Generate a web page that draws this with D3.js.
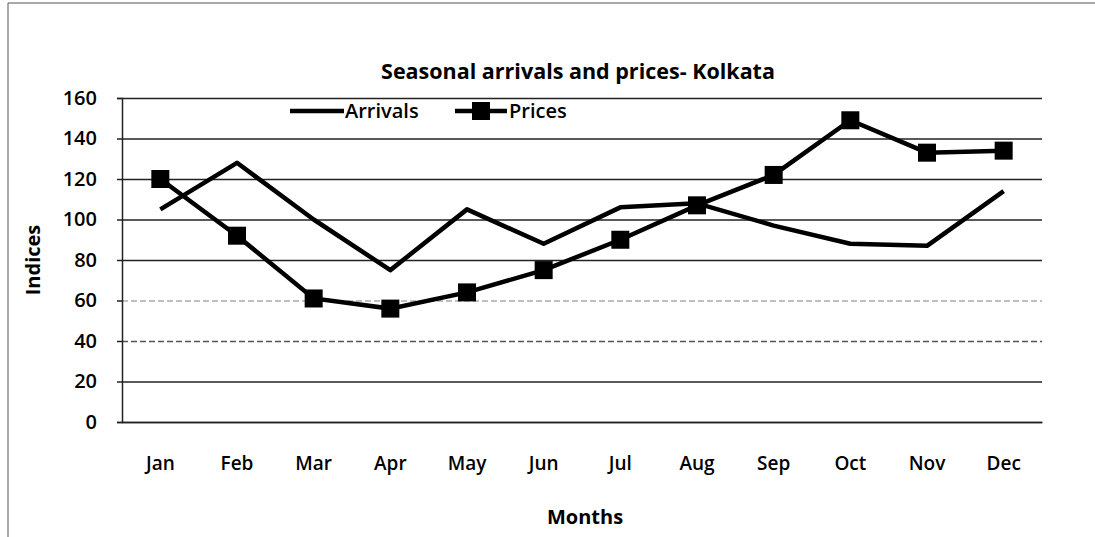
<!DOCTYPE html>
<html>
<head>
<meta charset="utf-8">
<script src="https://d3js.org/d3.v7.min.js"></script>
<style>
  body { margin: 0; background: #fff; }
  text { font-family: "Open Sans", "DejaVu Sans", sans-serif; fill: #000; }
</style>
</head>
<body>
<svg class="chart" width="1095" height="537"></svg>
<script>
  // data
  var months = ["Jan","Feb","Mar","Apr","May","Jun","Jul","Aug","Sep","Oct","Nov","Dec"]
  var arrivals = [105, 128, 100, 75, 105, 88, 106, 108, 97, 88, 87, 114]
  var prices = [120, 92, 61, 56, 64, 75, 90, 107, 122, 149, 133, 134]
  var yTicks = [0, 20, 40, 60, 80, 100, 120, 140, 160]

  var svg = d3.select("svg")
  var pLeft = 122, pRight = 1042, pTop = 98, pBottom = 422

  // page border (left and top only, like the scan)
  svg.append("line").attr("x1", 8).attr("x2", 8).attr("y1", 3).attr("y2", 537)
    .attr("stroke", "#555").attr("stroke-width", 1)
  svg.append("line").attr("x1", 8).attr("x2", 1095).attr("y1", 3).attr("y2", 3)
    .attr("stroke", "#555").attr("stroke-width", 1)

  var x = d3.scaleBand().domain(months).range([pLeft, pRight])
  var y = d3.scaleLinear().domain([0, 160]).range([pBottom, pTop])

  // gridlines
  svg.append("g")
    .attr("transform", "translate(" + pLeft + ",0)")
    .call(d3.axisLeft(y).tickValues(yTicks).tickSize(-(pRight - pLeft)).tickFormat(""))
    .call(g => g.select(".domain").remove())
    .call(g => g.selectAll(".tick line")
      .attr("stroke", d => d == 60 ? "#aaa" : (d == 40 ? "#555" : "#222"))
      .attr("stroke-dasharray", d => (d == 60 || d == 40) ? "6,3" : null)
      .attr("stroke-width", 1.5))

  // y axis with small outside ticks
  var yAxis = svg.append("g")
    .attr("transform", "translate(" + pLeft + ",0)")
    .call(d3.axisLeft(y).tickValues(yTicks).tickSize(5).tickPadding(20))
  yAxis.select(".domain").attr("stroke", "#222").attr("stroke-width", 1.5)
  yAxis.selectAll(".tick line").attr("stroke", "#222").attr("stroke-width", 1.5)
  yAxis.selectAll(".tick text")
    .style("font-size", "20px").style("font-weight", 600)

  // x axis
  var xAxis = svg.append("g")
    .attr("transform", "translate(0," + pBottom + ")")
    .call(d3.axisBottom(x).tickSize(0).tickPadding(35))
  xAxis.select(".domain").attr("stroke", "#222").attr("stroke-width", 1.5)
  xAxis.selectAll(".tick text")
    .style("font-size", "19px").style("font-weight", 600)

  var cx = d => x(d) + x.bandwidth() / 2
  var line = d3.line().x((d, i) => cx(months[i])).y(d => y(d))

  svg.append("path").datum(arrivals)
    .attr("d", line).attr("fill", "none")
    .attr("stroke", "#000").attr("stroke-width", 4.5).attr("stroke-linejoin", "round")

  svg.append("path").datum(prices)
    .attr("d", line).attr("fill", "none")
    .attr("stroke", "#000").attr("stroke-width", 4.5)

  var m = 18
  svg.selectAll("rect.mk").data(prices).enter().append("rect")
    .attr("class", "mk")
    .attr("x", (d, i) => cx(months[i]) - m / 2)
    .attr("y", d => y(d) - m / 2)
    .attr("width", m).attr("height", m)
    .attr("fill", "#000")

  // title and axis titles
  svg.append("text").attr("x", 578).attr("y", 79).attr("text-anchor", "middle")
    .style("font-size", "21.5px").style("font-weight", 700)
    .text("Seasonal arrivals and prices- Kolkata")
  svg.append("text").attr("x", 585).attr("y", 524).attr("text-anchor", "middle")
    .style("font-size", "20px").style("font-weight", 700)
    .text("Months")
  svg.append("text")
    .attr("transform", "translate(40," + (pTop + pBottom) / 2 + ") rotate(-90)")
    .attr("text-anchor", "middle")
    .style("font-size", "20px").style("font-weight", 700)
    .text("Indices")

  // legend
  var leg = svg.append("g").attr("transform", "translate(0,111)")
  leg.append("line").attr("x1", 290).attr("x2", 344).attr("y1", 0).attr("y2", 0)
    .attr("stroke", "#000").attr("stroke-width", 4.5)
  leg.append("text").attr("x", 345).attr("y", 7).style("font-size", "20px").style("font-weight", 600)
    .text("Arrivals")
  leg.append("line").attr("x1", 455).attr("x2", 507).attr("y1", 0).attr("y2", 0)
    .attr("stroke", "#000").attr("stroke-width", 4.5)
  leg.append("rect").attr("x", 481 - m / 2).attr("y", -m / 2).attr("width", m).attr("height", m)
    .attr("fill", "#000")
  leg.append("text").attr("x", 509).attr("y", 7).style("font-size", "20px").style("font-weight", 600)
    .text("Prices")
</script>
</body>
</html>
